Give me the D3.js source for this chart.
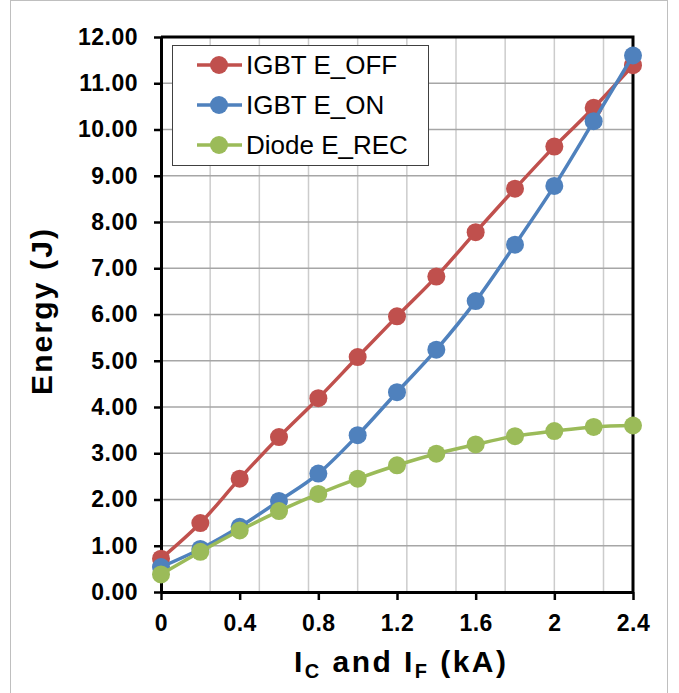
<!DOCTYPE html>
<html>
<head>
<meta charset="utf-8">
<script src="https://cdn.jsdelivr.net/npm/d3@7"></script>
<style>
  body { margin: 0; background: #fff; }
  svg { display: block; font-family: "Liberation Sans", Arial, sans-serif; }
</style>
</head>
<body>
<svg id="chart" width="679" height="693"></svg>
<script>
// data
var current = [0, 0.2, 0.4, 0.6, 0.8, 1.0, 1.2, 1.4, 1.6, 1.8, 2.0, 2.2, 2.4];
var eOff = [0.72, 1.49, 2.45, 3.35, 4.19, 5.08, 5.96, 6.82, 7.78, 8.72, 9.63, 10.47, 11.39];
var eOn  = [0.54, 0.93, 1.41, 1.97, 2.56, 3.39, 4.32, 5.24, 6.29, 7.51, 8.78, 10.18, 11.6];
var eRec = [0.38, 0.87, 1.33, 1.75, 2.12, 2.45, 2.74, 2.99, 3.19, 3.37, 3.48, 3.57, 3.6];
var seriesNames = ["IGBT E_OFF", "IGBT E_ON", "Diode E_REC"];
var seriesColors = ["#C0504D", "#4F81BD", "#9BBB59"];
var yTicks = [0, 1, 2, 3, 4, 5, 6, 7, 8, 9, 10, 11, 12];
var xTicks = [0, 0.4, 0.8, 1.2, 1.6, 2.0, 2.4];
var xTickLabels = ["0", "0.4", "0.8", "1.2", "1.6", "2", "2.4"];
var xGrid = [0.25, 0.5, 0.75, 1.0, 1.25, 1.5, 1.75, 2.0, 2.25];

var svg = d3.select('#chart');
var plotLeft = 161, plotRight = 633, plotTop = 37, plotBottom = 592;

var x = d3.scaleLinear().domain([0, 2.4]).range([plotLeft, plotRight]);
var y = d3.scaleLinear().domain([0, 12]).range([plotBottom, plotTop]);

// outer chart frame
svg.append('rect')
  .attr('x', 10.5).attr('y', 0.5)
  .attr('width', 657).attr('height', 710)
  .attr('fill', '#fff').attr('stroke', '#bfbfbf').attr('stroke-width', 1);

// gridlines
svg.append('g').selectAll('line').data(xGrid).enter().append('line')
  .attr('x1', d => x(d)).attr('x2', d => x(d))
  .attr('y1', plotTop).attr('y2', plotBottom)
  .attr('stroke', '#cccccc').attr('stroke-width', 1.5);

svg.append('g').selectAll('line').data(yTicks.slice(1)).enter().append('line')
  .attr('x1', plotLeft).attr('x2', plotRight)
  .attr('y1', d => y(d)).attr('y2', d => y(d))
  .attr('stroke', '#a6a6a6').attr('stroke-width', 1.5);

// plot frame (top and right)
svg.append('path')
  .attr('d', 'M' + plotLeft + ',' + plotTop + 'H' + plotRight + 'V' + plotBottom)
  .attr('fill', 'none').attr('stroke', '#000').attr('stroke-width', 3);

// axes
var yAxis = d3.axisLeft(y)
  .tickValues(yTicks)
  .tickFormat(d3.format('.2f'))
  .tickSize(7).tickSizeOuter(0).tickPadding(16);

var xAxis = d3.axisBottom(x)
  .tickValues(xTicks)
  .tickFormat((d, i) => xTickLabels[i])
  .tickSize(8).tickSizeOuter(0).tickPadding(15);

var gy = svg.append('g').attr('transform', 'translate(' + plotLeft + ',0)').call(yAxis);
var gx = svg.append('g').attr('transform', 'translate(0,' + plotBottom + ')').call(xAxis);

[gx, gy].forEach(function(g) {
  g.select('.domain').attr('stroke', '#000').attr('stroke-width', 3);
  g.selectAll('.tick line').attr('stroke', '#000').attr('stroke-width', 2.5);
  g.selectAll('.tick text')
    .attr('fill', '#000')
    .style('font-size', '23px')
    .style('font-weight', 'bold')
    .style('letter-spacing', '0.5px')
    .style('font-family', '"Liberation Sans", Arial, sans-serif');
});

// series
var allSeries = [eOff, eOn, eRec];
var line = d3.line()
  .x((d, i) => x(current[i]))
  .y(d => y(d))
  .curve(d3.curveMonotoneX);

allSeries.forEach(function(vals, s) {
  var g = svg.append('g');
  g.append('path')
    .datum(vals)
    .attr('d', line)
    .attr('fill', 'none')
    .attr('stroke', seriesColors[s])
    .attr('stroke-width', 3.5);
  g.selectAll('circle').data(vals).enter().append('circle')
    .attr('cx', (d, i) => x(current[i]))
    .attr('cy', d => y(d))
    .attr('r', 9)
    .attr('fill', seriesColors[s]);
});

// legend
var legend = svg.append('g');
legend.append('rect')
  .attr('x', 172.5).attr('y', 45.5)
  .attr('width', 256).attr('height', 120)
  .attr('fill', '#fff').attr('stroke', '#404040').attr('stroke-width', 1);

var legendY = d3.scalePoint().domain(seriesNames).range([65, 145]);
seriesNames.forEach(function(name, i) {
  var cy = legendY(name);
  legend.append('line')
    .attr('x1', 197).attr('x2', 242)
    .attr('y1', cy).attr('y2', cy)
    .attr('stroke', seriesColors[i]).attr('stroke-width', 3.5);
  legend.append('circle')
    .attr('cx', 219).attr('cy', cy).attr('r', 9)
    .attr('fill', seriesColors[i]);
  legend.append('text')
    .attr('x', 246).attr('y', cy + 9)
    .attr('font-size', 26)
    .attr('fill', '#000')
    .text(name);
});

// axis titles
svg.append('text')
  .attr('transform', 'translate(52,312) rotate(-90)')
  .attr('text-anchor', 'middle')
  .attr('font-size', 30)
  .attr('font-weight', 'bold')
  .attr('textLength', 166)
  .attr('lengthAdjust', 'spacing')
  .text('Energy (J)');

var xt = svg.append('text')
  .attr('x', 400).attr('y', 672)
  .attr('text-anchor', 'middle')
  .attr('font-size', 30)
  .attr('font-weight', 'bold')
  .attr('textLength', 212)
  .attr('lengthAdjust', 'spacing');
xt.append('tspan').text('I');
xt.append('tspan').attr('font-size', 20).attr('dy', 6).text('C');
xt.append('tspan').attr('dy', -6).text(' and I');
xt.append('tspan').attr('font-size', 20).attr('dy', 6).text('F');
xt.append('tspan').attr('dy', -6).text(' (kA)');
</script>
</body>
</html>
